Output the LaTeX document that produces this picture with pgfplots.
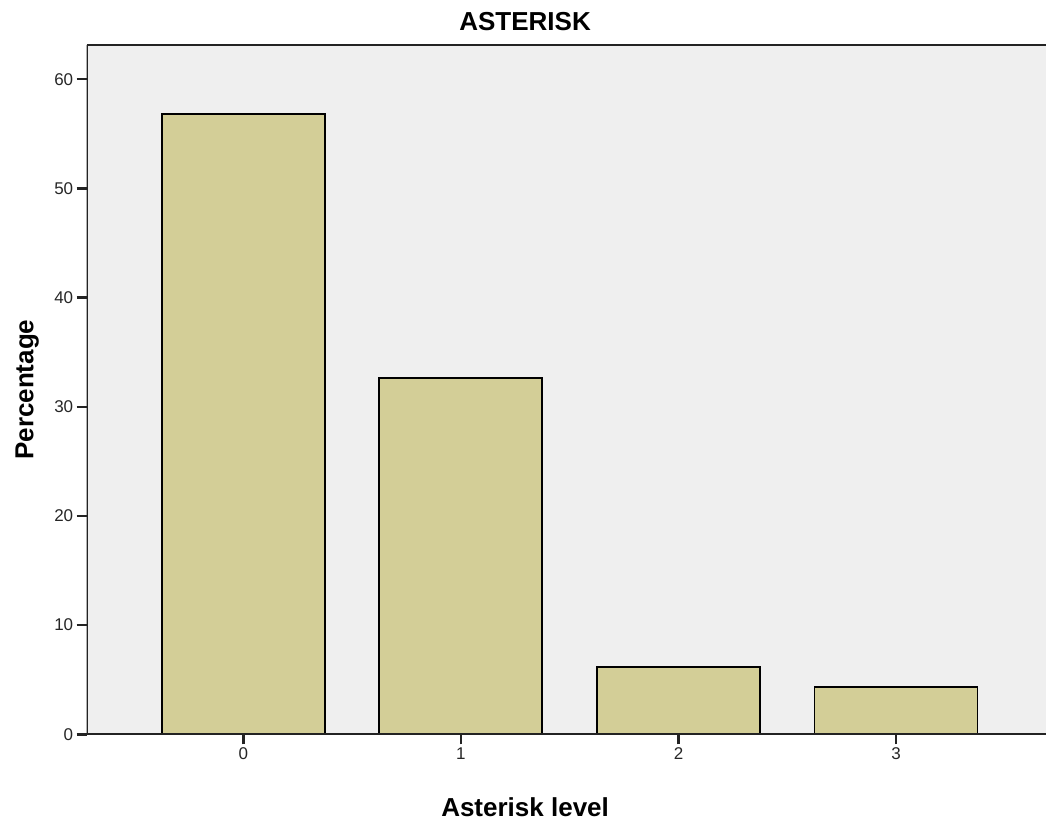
\documentclass[border=0pt]{standalone}
\usepackage{fontspec}
\setmainfont{Liberation Sans}
\usepackage{pgfplots}
\pgfplotsset{compat=1.18}
\definecolor{bg}{RGB}{239,239,239}
\definecolor{barfill}{RGB}{211,206,151}
\definecolor{axline}{RGB}{35,35,35}
\begin{document}
\begin{tikzpicture}
\begin{axis}[
  scale only axis,
  width=959.3bp, height=689.3bp,
  xmin=-0.7197, xmax=3.689,
  ymin=0, ymax=63.14,
  axis background/.style={fill=bg},
  axis line style={draw=none},
  xtick={0,1,2,3},
  ytick={0,10,20,30,40,50,60},
  xtick pos=bottom, ytick pos=left,
  tick align=outside,
  major tick length=10bp,
  tick style={line width=2.4bp, color=axline},
  /pgf/number format/assume math mode=true,
  ticklabel style={font=\fontsize{17bp}{20bp}\selectfont, text=black!85},
  title={ASTERISK},
  title style={font=\bfseries\fontsize{26bp}{30bp}\selectfont, at={(axis description cs:0.457,1)}, anchor=base, yshift=9bp},
  xlabel={Asterisk level},
  xlabel style={font=\bfseries\fontsize{26bp}{30bp}\selectfont, at={(axis description cs:0.457,-0.1193)}, anchor=base},
  ylabel={Percentage},
  ylabel style={font=\bfseries\fontsize{26bp}{30bp}\selectfont, at={(axis description cs:-0.0555,0.5)}, anchor=base},
  ybar, bar width=163bp,
]
\addplot[fill=barfill, draw=black, line width=1.8bp] coordinates {(0,56.79) (1,32.61) (2,6.19) (3,4.31)};
\draw[axline, line width=2.4bp] (rel axis cs:0,1) -- (rel axis cs:1,1);
\draw[axline, line width=2.4bp] (rel axis cs:0,0) -- (rel axis cs:1,0);
\draw[axline, line width=2.4bp] (rel axis cs:0,0) -- (rel axis cs:0,1);
\end{axis}
\pgfresetboundingbox
\path[use as bounding box] ([shift={(-86.7bp,-89.7bp)}]current axis.south west) rectangle ([shift={(0bp,45bp)}]current axis.north east);
\end{tikzpicture}
\end{document}
